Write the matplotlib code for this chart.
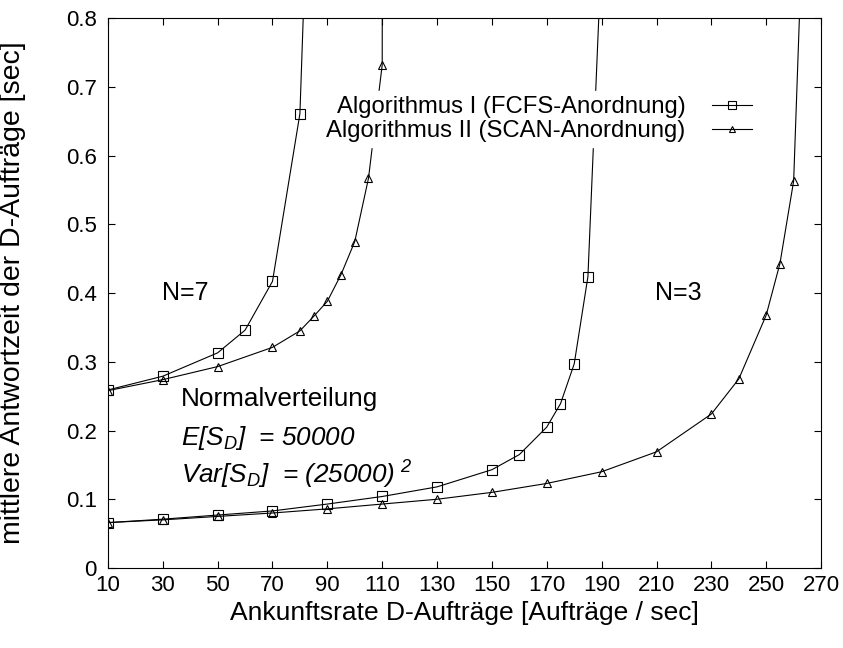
import matplotlib
matplotlib.use('Agg')
import matplotlib.pyplot as plt

plt.rcParams['font.family'] = ['Liberation Sans', 'DejaVu Sans']
plt.rcParams['mathtext.fontset'] = 'custom'
plt.rcParams['mathtext.rm'] = 'Liberation Sans:italic'
plt.rcParams['mathtext.it'] = 'Liberation Sans:italic'

# N=7, Algorithmus I (FCFS)
x_fcfs_n7 = [10, 30, 50, 60, 70, 80, 85]
y_fcfs_n7 = [0.259, 0.279, 0.313, 0.346, 0.417, 0.661, 1.24]
# N=7, Algorithmus II (SCAN)
x_scan_n7 = [10, 30, 50, 70, 80, 85, 90, 95, 100, 105, 110, 110.3]
y_scan_n7 = [0.258, 0.274, 0.293, 0.321, 0.345, 0.366, 0.388, 0.427, 0.475, 0.567, 0.732, 1.6]
# N=3, Algorithmus I (FCFS)
x_fcfs_n3 = [10, 30, 50, 70, 90, 110, 130, 150, 160, 170, 175, 180, 185, 190]
y_fcfs_n3 = [0.066, 0.071, 0.077, 0.083, 0.093, 0.104, 0.118, 0.143, 0.165, 0.205, 0.239, 0.297, 0.424, 0.90]
# N=3, Algorithmus II (SCAN)
x_scan_n3 = [10, 30, 50, 70, 90, 110, 130, 150, 170, 190, 210, 230, 240, 250, 255, 260, 265]
y_scan_n3 = [0.066, 0.070, 0.075, 0.080, 0.086, 0.093, 0.100, 0.110, 0.123, 0.140, 0.169, 0.224, 0.275, 0.368, 0.443, 0.563, 1.13]

x_ticks = list(range(10, 271, 20))
y_ticks = [0, 0.1, 0.2, 0.3, 0.4, 0.5, 0.6, 0.7, 0.8]
y_tick_labels = ['0', '0.1', '0.2', '0.3', '0.4', '0.5', '0.6', '0.7', '0.8']

label_fcfs = 'Algorithmus I (FCFS-Anordnung)'
label_scan = 'Algorithmus II (SCAN-Anordnung)'

fig = plt.figure(figsize=(8.43, 6.48), dpi=100)
ax = fig.add_axes([0.128, 0.1235, 0.846, 0.8485])

line_kw = dict(color='black', lw=0.8, markerfacecolor='none', markeredgecolor='black', markeredgewidth=0.8)
ax.plot(x_fcfs_n7, y_fcfs_n7, marker='s', markersize=7, label=label_fcfs, **line_kw)
ax.plot(x_scan_n7, y_scan_n7, marker='^', markersize=6, label=label_scan, **line_kw)
ax.plot(x_fcfs_n3, y_fcfs_n3, marker='s', markersize=7, **line_kw)
ax.plot(x_scan_n3, y_scan_n3, marker='^', markersize=6, **line_kw)

ax.set_xlim(10, 270)
ax.set_ylim(0, 0.8)
ax.set_xticks(x_ticks)
ax.set_yticks(y_ticks)
ax.set_yticklabels(y_tick_labels)
ax.tick_params(direction='in', length=5, width=0.8, top=True, right=True, labelsize=16)
ax.tick_params(axis='x', pad=5)
ax.tick_params(axis='y', pad=8)

ax.set_xlabel('Ankunftsrate D-Aufträge [Aufträge / sec]', fontsize=19, labelpad=4)
ax.set_ylabel('mittlere Antwortzeit der D-Aufträge [sec]', fontsize=20.5, labelpad=29)

ax.text(29.7, 0.40, 'N=7', fontsize=18, va='center')
ax.text(209.5, 0.40, 'N=3', fontsize=18, va='center')
ax.text(36.5, 0.246, 'Normalverteilung', fontsize=18.8, va='center')
ax.text(36.5, 0.189, r'$E[S_D]$  = 50000', fontsize=18.8, va='center', style='italic')
ax.text(36.5, 0.135, r'$Var[S_D]$  = (25000)$\;^{2}$', fontsize=18.8, va='center', style='italic')

leg = ax.legend(loc='upper right', bbox_to_anchor=(0.926, 0.889), markerfirst=False, frameon=True,
                fontsize=17.2, handlelength=1.67, handletextpad=1.09, labelspacing=0.1,
                borderpad=0.2, fancybox=False, markerscale=0.8)
leg.get_frame().set_edgecolor('white')
leg.get_frame().set_facecolor('white')
leg.get_frame().set_alpha(1.0)

fig.savefig('out.png', dpi=100)
